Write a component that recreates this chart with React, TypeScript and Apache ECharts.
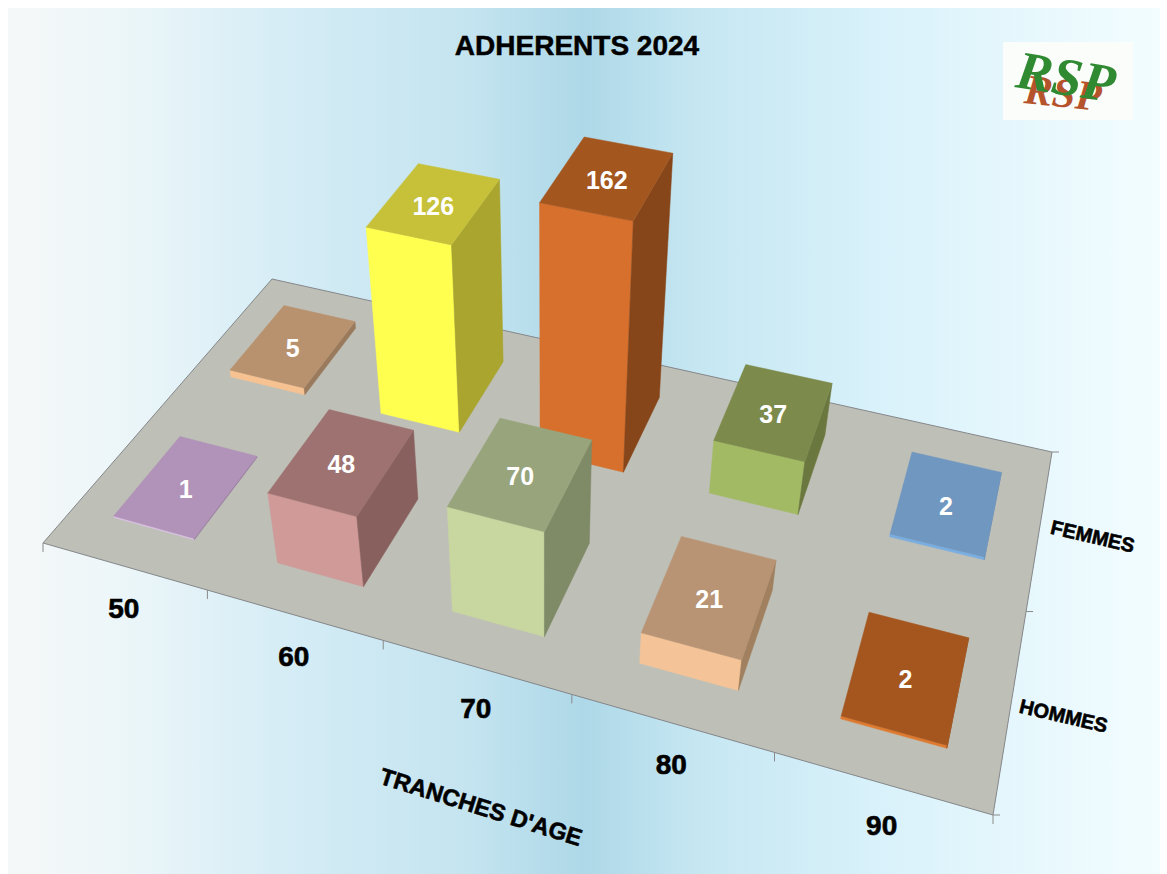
import React, { useEffect, useRef } from "react";
import * as echarts from "echarts";

const ageLabels = ["50", "60", "70", "80", "90"];
const rowLabels = ["HOMMES", "FEMMES"];
const hommes = [1, 48, 70, 21, 2];
const femmes = [5, 126, 162, 37, 2];

const hommesPalette = [
  ["#dcc2e6", "#b192b9", "#9a7fa2"],
  ["#cf9a98", "#9e7270", "#88615f"],
  ["#c8d6a0", "#98a57c", "#7f8a67"],
  ["#f4c498", "#b89474", "#a0805f"],
  ["#de7a30", "#a5561f", "#8a4a1c"],
];
const femmesPalette = [
  ["#f6c292", "#b8926f", "#9a7a5c"],
  ["#ffff50", "#c6c138", "#a9a52f"],
  ["#d6702c", "#a4561f", "#87461a"],
  ["#a3ba65", "#7c8b4c", "#6a783f"],
  ["#7aaee0", "#7097bf", "#648ab0"],
];

const PAGE = 8; // chart div offset inside the page
const corners = [[43, 543], [993, 815], [1052, 452], [272, 279]];
const VP = [545, 2470];
const HEIGHT_K = 0.000725;
const BAR_U = 0.25;
const BAR_V = 0.23;

const [x0, y0] = corners[0];
const [x1, y1] = corners[1];
const [x2, y2] = corners[2];
const [x3, y3] = corners[3];
const det = (x1 - x2) * (y3 - y2) - (x3 - x2) * (y1 - y2);
const sx = x0 - x1 + x2 - x3;
const sy = y0 - y1 + y2 - y3;
const g = (sx * (y3 - y2) - (x3 - x2) * sy) / det;
const h = ((x1 - x2) * sy - sx * (y1 - y2)) / det;

function project(u: number, v: number, val = 0): number[] {
  const U = u / ageLabels.length;
  const V = v / rowLabels.length;
  const X = (x1 - x0 + g * x1) * U + (x3 - x0 + h * x3) * V + x0;
  const Y = (y1 - y0 + g * y1) * U + (y3 - y0 + h * y3) * V + y0;
  const W = g * U + h * V + 1;
  const s = val * HEIGHT_K;
  return [(X - s * VP[0]) / (W - s) - PAGE, (Y - s * VP[1]) / (W - s) - PAGE];
}

const barFont = "bold 25px 'Liberation Sans', Arial, sans-serif";
const axisFont = "bold 28px 'Liberation Sans', Arial, sans-serif";
const nameFont = "bold 20px 'Liberation Sans', Arial, sans-serif";

function barSeries(name: string, row: number, values: number[], palette: string[][]) {
  return {
    type: "custom",
    name,
    coordinateSystem: "none",
    silent: true,
    data: values.map((val, i) => [i, val]),
    renderItem: (_: any, api: any) => {
      const i = api.value(0);
      const val = api.value(1);
      const [front, top, side] = palette[i];
      const u0 = i + BAR_U, u1 = i + 1 - BAR_U;
      const v0 = row + BAR_V, v1 = row + 1 - BAR_V;
      const poly = (pts: number[][], fill: string) => ({
        type: "polygon",
        shape: { points: pts },
        style: { fill, stroke: fill, lineWidth: 0.5 },
      });
      const c = project((u0 + u1) / 2, (v0 + v1) / 2, val);
      return {
        type: "group",
        children: [
          poly([project(u0, v0), project(u1, v0), project(u1, v0, val), project(u0, v0, val)], front),
          poly([project(u1, v0), project(u1, v1), project(u1, v1, val), project(u1, v0, val)], side),
          poly([project(u0, v0, val), project(u1, v0, val), project(u1, v1, val), project(u0, v1, val)], top),
          {
            type: "text",
            x: c[0] - 1,
            y: c[1] + 3,
            style: { text: String(val), fill: "#ffffff", font: barFont, align: "center", verticalAlign: "middle" },
          },
        ],
      };
    },
  };
}

export default function App() {
  const ref = useRef<HTMLDivElement>(null);
  useEffect(() => {
    const chart = echarts.init(ref.current!, undefined, { renderer: "svg" });
    const nU = ageLabels.length;
    const nV = rowLabels.length;
    const tickColor = "#8a8a8a";
    chart.setOption({
      animation: false,
      backgroundColor: new echarts.graphic.LinearGradient(0, 0, 1, 0, [
        { offset: 0, color: "#f5f8f8" },
        { offset: 0.1, color: "#ecf6f9" },
        { offset: 0.25, color: "#d4ecf5" },
        { offset: 0.4, color: "#c4e4f0" },
        { offset: 0.5, color: "#aed8e8" },
        { offset: 0.6, color: "#c6e7f2" },
        { offset: 0.75, color: "#d8f1fa" },
        { offset: 1, color: "#f3fdff" },
      ]),
      title: {
        text: "ADHERENTS 2024",
        left: 564,
        top: 18,
        textAlign: "center",
        textStyle: {
          fontFamily: "'Liberation Sans', Arial, sans-serif",
          fontWeight: "bold",
          fontSize: 28,
          color: "#000",
          textBorderColor: "#000",
          textBorderWidth: 0.5,
        },
      },
      tooltip: { show: false },
      series: [
        {
          type: "custom",
          name: "floor",
          coordinateSystem: "none",
          silent: true,
          data: [[0]],
          renderItem: () => ({
            type: "polygon",
            shape: { points: [project(0, 0), project(nU, 0), project(nU, nV), project(0, nV)] },
            style: { fill: "#bebfb7", stroke: "#85878a", lineWidth: 1 },
          }),
        },
        {
          type: "custom",
          name: "ageTicks",
          coordinateSystem: "none",
          silent: true,
          data: [0, 1, 2, 3, 4, 5].map((i) => [i]),
          renderItem: (_: any, api: any) => {
            const p = project(api.value(0), 0);
            return {
              type: "line",
              shape: { x1: p[0], y1: p[1], x2: p[0], y2: p[1] + 9 },
              style: { stroke: tickColor, lineWidth: 1 },
            };
          },
        },
        {
          type: "custom",
          name: "rowTicks",
          coordinateSystem: "none",
          silent: true,
          data: [0, 1, 2].map((i) => [i]),
          renderItem: (_: any, api: any) => {
            const p = project(nU, api.value(0));
            return {
              type: "line",
              shape: { x1: p[0], y1: p[1], x2: p[0] + 7, y2: p[1] },
              style: { stroke: tickColor, lineWidth: 1 },
            };
          },
        },
        {
          type: "custom",
          name: "ageLabels",
          coordinateSystem: "none",
          silent: true,
          data: ageLabels.map((_, i) => [i]),
          renderItem: (_: any, api: any) => {
            const i = api.value(0);
            const p = project(i + 0.5, 0);
            return {
              type: "text",
              x: p[0],
              y: p[1] + 42,
              style: { text: ageLabels[i], fill: "#000", stroke: "#000", lineWidth: 0.6, font: axisFont, align: "center", verticalAlign: "middle" },
            };
          },
        },
        {
          type: "custom",
          name: "rowLabels",
          coordinateSystem: "none",
          silent: true,
          data: rowLabels.map((_, i) => [i]),
          renderItem: (_: any, api: any) => {
            const i = api.value(0);
            const p = project(nU, i + 0.5);
            return {
              type: "text",
              x: p[0] + 53,
              y: p[1] + 9,
              rotation: (-13 * Math.PI) / 180,
              style: { text: rowLabels[i], fill: "#000", stroke: "#000", lineWidth: 0.6, font: nameFont, align: "center", verticalAlign: "middle" },
            };
          },
        },
        barSeries("FEMMES", 1, femmes, femmesPalette),
        barSeries("HOMMES", 0, hommes, hommesPalette),
      ],
      graphic: [
        {
          type: "text",
          x: 481 - PAGE,
          y: 807 - PAGE,
          rotation: (-17.4 * Math.PI) / 180,
          style: { text: "TRANCHES D'AGE", fill: "#000", stroke: "#000", lineWidth: 0.6, font: "bold 23.5px 'Liberation Sans', Arial, sans-serif", align: "center", verticalAlign: "middle" },
        },
        { type: "rect", shape: { x: 1003 - PAGE, y: 42 - PAGE, width: 130, height: 78 }, style: { fill: "#fbfdfb" } },
        {
          type: "text",
          x: 1063 - PAGE,
          y: 93 - PAGE,
          rotation: (-6 * Math.PI) / 180,
          style: { text: "RSP", fill: "#b5532c", font: "italic bold 42px 'Liberation Serif', serif", align: "center", verticalAlign: "middle" },
        },
        {
          type: "text",
          x: 1066 - PAGE,
          y: 77 - PAGE,
          rotation: (-9 * Math.PI) / 180,
          style: { text: "RSP", fill: "#2f8a32", font: "italic bold 54px 'Liberation Serif', serif", align: "center", verticalAlign: "middle" },
        },
      ],
    });
    return () => chart.dispose();
  }, []);
  return <div ref={ref} style={{ position: "absolute", left: PAGE, top: PAGE, width: 1152, height: 866 }} />;
}
